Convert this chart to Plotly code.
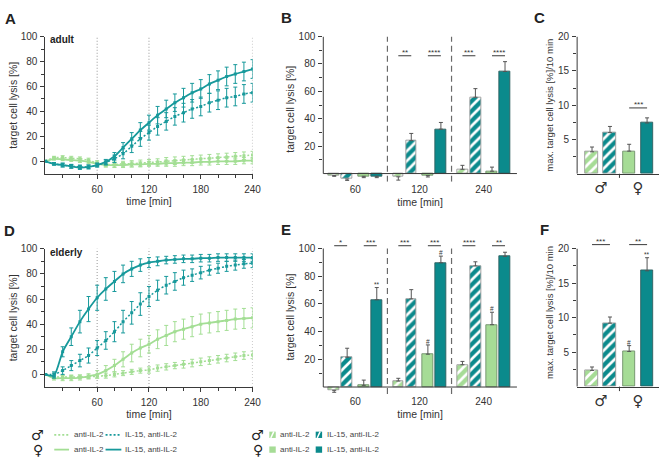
import plotly.graph_objects as go

W, H = 669, 458
FONT = "Liberation Sans, Arial, Helvetica, sans-serif"
AX = "#3a3a3a"
TXT = "#333333"
TEAL = "#17999b"
TEAL_BAR = "#0b8a8c"
GREEN = "#a3de94"
GREEN_BAR = "#a6dc96"

# ---------------- data ----------------
time_min = [0, 10, 20, 30, 40, 50, 60, 70, 80, 90, 100, 110, 120,
            130, 140, 150, 160, 170, 180, 190, 200, 210, 220, 230, 240]

# Panel A (adult) kinetics
a_anti_m = [0, 3, 3, 2.5, 2, 1, -1.5, -2.5, -2.5, -2, -2, -1.5, -1, -0.5, 0, 0.5, 1, 1.5, 2, 2.5, 3, 3.5, 4, 4.5, 5]
a_anti_m_err = [0, 1, 1.5, 1.5, 1.5, 1.5, 2, 2, 2, 2, 2.5, 2.5, 2.5, 2.5, 3, 3, 3, 3, 3, 3, 3, 3, 3, 3, 3]
a_anti_f = [0, 2, 1.5, 1, 0.5, -0.5, -2, -3, -3, -3, -2.5, -2.5, -2, -2, -1.5, -1.5, -1, -1, -0.5, -0.5, 0, 0, 0, 0.5, 0.5]
a_anti_f_err = [0, 1, 1, 1, 1.5, 1.5, 1.5, 1.5, 2, 2, 2, 2, 2, 2, 2.5, 2.5, 2.5, 2.5, 2.5, 2.5, 2.5, 2.5, 2.5, 2.5, 2.5]
a_il15_m = [0, -2, -3, -4, -4.5, -4.5, -3, -1, 2, 6, 12, 18, 23, 28, 32, 36, 39, 42, 44, 47, 49, 51, 52, 54, 55]
a_il15_m_err = [0, 1, 1.5, 1.5, 1.5, 1.5, 1.5, 2, 3, 4, 5, 6, 6, 7, 7, 7, 7.5, 7.5, 7.5, 7.5, 7.5, 7.5, 7.5, 7.5, 7.5]
a_il15_f = [0, -2, -3, -4, -5, -4.5, -3, -0.5, 4, 11, 18, 25, 31, 37, 42, 47, 51, 55, 58, 62, 65, 68, 70, 72, 74]
a_il15_f_err = [0, 1, 1.5, 1.5, 1.5, 1.5, 1.5, 2, 3, 4, 5, 6, 6, 7, 7, 7, 7.5, 7.5, 7.5, 7.5, 7.5, 7.5, 7.5, 7.5, 7.5]

# Panel D (elderly) kinetics
d_anti_m = [0, -2, -2, -2, -2, -2, -1.5, -1, 0, 1, 2, 3, 3.5, 5, 6, 7, 8, 9, 10, 11, 12, 13, 14, 15, 15.5]
d_anti_m_err = [0, 1, 1.5, 1.5, 1.5, 1.5, 1.5, 2, 2, 2, 2, 2, 2.5, 2.5, 2.5, 2.5, 3, 3, 3, 3, 3, 3, 3, 3, 3]
d_anti_f = [0, -3, -3, -3, -2.5, -1.5, 0, 3, 7, 12, 17, 21, 24, 28, 31, 34, 36, 38, 40, 41, 42, 43, 44, 44.5, 45]
d_anti_f_err = [0, 1.5, 2, 2, 2, 2, 3, 4, 5, 6, 7, 7, 7, 7.5, 8, 8, 8, 8, 8, 8, 8, 8, 8, 8, 8]
d_il15_m = [0, 0, 3, 7, 11, 15, 21, 27, 34, 42, 49, 56, 62, 67, 71, 74, 77, 79, 81, 83, 84.5, 86, 87, 88, 88.5]
d_il15_m_err = [0, 2, 3, 4, 5, 6, 6, 7, 8, 9, 9, 9, 8, 8, 7, 7, 6, 5, 5, 4, 4, 4, 4, 3.5, 3.5]
d_il15_f = [0, -1, 18, 30, 42, 52, 61, 68, 74, 80, 84, 87, 89, 90, 91, 91.5, 92, 92, 92.5, 92.5, 93, 93, 93, 93, 93]
d_il15_f_err = [0, 2, 4, 7, 9, 10, 10, 9, 8, 7, 6, 5, 4, 3.5, 3, 3, 3, 3, 3, 3, 3, 3, 3, 3, 3]

# Panels B / E: bars at 60, 120, 240 min
group_labels = ["60", "120", "240"]
b_anti_m = [-1.5, -2.4, 3.1]
b_anti_m_err = [0.5, 2.4, 2.9]
b_il15_m = [-4, 24, 55.7]
b_il15_m_err = [1, 5.3, 6.3]
b_anti_f = [-2, -1.5, 1.7]
b_anti_f_err = [1, 1, 3]
b_il15_f = [-2, 32.4, 74.5]
b_il15_f_err = [1, 4.9, 7.2]

e_anti_m = [-2.4, 4.3, 16.1]
e_anti_m_err = [1.4, 2, 2.4]
e_il15_m = [21.5, 63.6, 87.4]
e_il15_m_err = [6.5, 6.7, 3]
e_anti_f = [1.2, 23.7, 45]
e_anti_f_err = [3.8, 6.7, 9]
e_il15_f = [63, 89.7, 94.3]
e_il15_f_err = [8.8, 4.8, 3]

# Panels C / F: max. lysis rate
sex_labels = ["♂", "♀"]
c_anti = [3.2, 3.3]
c_anti_err = [0.7, 1.0]
c_il15 = [6.0, 7.4]
c_il15_err = [0.9, 0.75]
f_anti = [2.35, 5.1]
f_anti_err = [0.5, 0.85]
f_il15 = [9.2, 16.8]
f_il15_err = [0.9, 1.9]

# significance labels
b_sig = [(1, 0, "**"), (1, 1, "****"), (2, 0, "***"), (2, 1, "****")]
e_sig = [(0, 0, "*"), (0, 1, "***"), (1, 0, "***"), (1, 1, "***"), (2, 0, "****"), (2, 1, "**")]
e_marks = [(0, 3, "**"), (1, 2, "#"), (1, 3, "#"), (2, 2, "#")]
c_sig = [(1, "***")]
f_sig = [(0, "***"), (1, "**")]
f_marks = [(1, 0, "#"), (1, 1, "**")]

# ---------------- layout helpers ----------------
def fx(p):
    return p / W


def fy(p):
    return 1 - p / H


fig = go.Figure()

# bar geometry (category units)
BW4 = 0.17
OFF4 = [-0.33, -0.128, 0.131, 0.334]
BW2 = 0.345
OFF2 = [-0.239, 0.244]
DOT = "2px,2px"


def curve(xa, ya, y, err, color, dash, width):
    fig.add_trace(go.Scatter(
        x=time_min, y=y, mode="lines+markers", xaxis=xa, yaxis=ya,
        line=dict(color=color, dash=dash, width=width, shape="spline", smoothing=0.6),
        marker=dict(symbol="square", size=3, color=color),
        error_y=dict(type="data", array=err, color=color, thickness=1, width=2),
        showlegend=False, hoverinfo="skip"))


for xa, ya, sets in [
    ("x", "y", [(a_anti_m, a_anti_m_err, GREEN, DOT, 1.5), (a_anti_f, a_anti_f_err, GREEN, "solid", 1.8),
                (a_il15_m, a_il15_m_err, TEAL, DOT, 1.5), (a_il15_f, a_il15_f_err, TEAL, "solid", 1.8)]),
    ("x4", "y4", [(d_anti_m, d_anti_m_err, GREEN, DOT, 1.5), (d_anti_f, d_anti_f_err, GREEN, "solid", 1.8),
                  (d_il15_m, d_il15_m_err, TEAL, DOT, 1.5), (d_il15_f, d_il15_f_err, TEAL, "solid", 1.8)]),
]:
    for y, e, c, d, w in sets:
        curve(xa, ya, y, e, c, d, w)


def one_sided(vals, errs):
    up = [e if v >= 0 else 0 for v, e in zip(vals, errs)]
    dn = [0 if v >= 0 else e for v, e in zip(vals, errs)]
    return up, dn


def bar(xa, ya, x, vals, errs, color, hatch, offset, width, edge):
    up, dn = one_sided(vals, errs)
    pat = dict(shape=hatch, fgcolor="white", bgcolor=color, size=7, solidity=0.38, fillmode="replace")
    fig.add_trace(go.Bar(
        x=x, y=vals, xaxis=xa, yaxis=ya, offset=offset - width / 2, width=width,
        marker=dict(color=color, pattern=pat, line=dict(color=edge, width=0.9)),
        error_y=dict(type="data", symmetric=False, array=up, arrayminus=dn,
                     color="#555555", thickness=1, width=2),
        showlegend=False, hoverinfo="skip"))


for xa, ya, data in [
    ("x2", "y2", [(b_anti_m, b_anti_m_err), (b_il15_m, b_il15_m_err), (b_anti_f, b_anti_f_err), (b_il15_f, b_il15_f_err)]),
    ("x5", "y5", [(e_anti_m, e_anti_m_err), (e_il15_m, e_il15_m_err), (e_anti_f, e_anti_f_err), (e_il15_f, e_il15_f_err)]),
]:
    styles = [(GREEN_BAR, "/", "#9a9a9a"), (TEAL_BAR, "/", "#9a9a9a"), (GREEN_BAR, "", "#6f8f6a"), (TEAL_BAR, "", "#2f5f5f")]
    for i, ((v, e), (c, h, ed)) in enumerate(zip(data, styles)):
        bar(xa, ya, group_labels, v, e, c, h, OFF4[i], BW4, ed)

for xa, ya, an, ane, il, ile in [("x3", "y3", c_anti, c_anti_err, c_il15, c_il15_err),
                                 ("x6", "y6", f_anti, f_anti_err, f_il15, f_il15_err)]:
    for i, (v, e, c) in enumerate([(an, ane, GREEN_BAR), (il, ile, TEAL_BAR)]):
        up, dn = one_sided(v, e)
        fig.add_trace(go.Bar(
            x=sex_labels, y=v, xaxis=xa, yaxis=ya, offset=OFF2[i] - BW2 / 2, width=BW2,
            marker=dict(color=c, pattern=dict(shape=["/", ""], fgcolor="white", bgcolor=c, size=7,
                                              solidity=0.38, fillmode="replace"),
                        line=dict(color=["#9a9a9a", "#2f5f5f" if i else "#6f8f6a"], width=0.9)),
            error_y=dict(type="data", symmetric=False, array=up, arrayminus=dn,
                         color="#555555", thickness=1, width=2),
            showlegend=False, hoverinfo="skip"))

# ---------------- axes ----------------
tickfont = dict(family=FONT, size=10, color=TXT)
titlefont = dict(family=FONT, size=10.5, color=TXT)

common_y = dict(ticks="outside", ticklen=4, tickcolor=AX, tickwidth=1, tickfont=tickfont,
                showgrid=False, zeroline=False, linecolor=AX, linewidth=1, fixedrange=True)

xA = fx(46), fx(256)
xB = fx(327.7), fx(524)
xC = fx(585), fx(668)

layout = dict(
    width=W, height=H, margin=dict(l=0, r=0, t=0, b=0),
    paper_bgcolor="white", plot_bgcolor="white", bargap=0,
    font=dict(family=FONT, color=TXT),
)

for n, ydom in [("", (fy(170), fy(31))), ("4", (fy(386), fy(246)))]:
    layout["xaxis" + n] = dict(domain=list(xA), range=[0, 240], anchor="y" + n,
                               tickvals=[60, 120, 180, 240], ticks="outside", ticklen=4,
                               tickcolor=AX, tickfont=tickfont, showline=True, linecolor=AX,
                               showgrid=False, zeroline=False, ticklabelstandoff=2,
                               minor=dict(tickvals=[20, 40, 80, 100, 140, 160, 200, 220],
                                          ticks="outside", ticklen=3, tickcolor=AX),
                               title=dict(text="time [min]", font=titlefont, standoff=2))
    layout["yaxis" + n] = dict(common_y, domain=list(ydom), range=[-10, 100], anchor="x" + n,
                               tickvals=[0, 20, 40, 60, 80, 100], showline=True, ticklabelstandoff=1,
                               minor=dict(tickvals=[10, 30, 50, 70, 90], ticks="outside", ticklen=3, tickcolor=AX),
                               title=dict(text="target cell lysis [%]", font=titlefont, standoff=1))

for n, ydom, yr in [("2", (fy(178.1), fy(31)), [-6, 100]), ("5", (fy(393.1), fy(237.3)), [-5, 106])]:
    layout["xaxis" + n] = dict(domain=list(xB), type="category", range=[-0.5, 2.52], anchor="y" + n,
                               ticks="", tickfont=tickfont, showline=False, showgrid=False, zeroline=False,
                               title=dict(text="time [min]", font=titlefont, standoff=4))
    layout["yaxis" + n] = dict(common_y, domain=list(ydom), range=yr, anchor="x" + n,
                               tickvals=[20, 40, 60, 80, 100], showline=False, ticklabelstandoff=1,
                               minor=dict(tickvals=[10, 30, 50, 70, 90], ticks="outside", ticklen=3, tickcolor=AX),
                               title=dict(text="target cell lysis [%]", font=titlefont, standoff=1))

for n, ydom, yr in [("3", (fy(170), fy(31)), [0, 20]), ("6", (fy(385.7), fy(235.5)), [0, 21.5])]:
    layout["xaxis" + n] = dict(domain=list(xC), type="category", range=[-0.64, 1.565], anchor="y" + n,
                               ticks="", tickfont=dict(family="DejaVu Sans", size=15, color=TXT),
                               showline=True, linecolor=AX, showgrid=False, zeroline=False,
                               ticklabelstandoff=0)
    layout["yaxis" + n] = dict(common_y, domain=list(ydom), range=yr, anchor="x" + n,
                               tickvals=[5, 10, 15, 20], showline=False, ticklabelstandoff=1,
                               minor=dict(tickvals=[2.5, 7.5, 12.5, 17.5], ticks="outside", ticklen=3, tickcolor=AX),
                               title=dict(text="max. target cell lysis [%]/10 min",
                                          font=dict(family=FONT, size=9.5, color=TXT), standoff=2))

fig.update_layout(**layout)

shapes = []
annotations = []

# dotted time markers in A and D
for n in ["", "4"]:
    for t in [60, 120, 240]:
        shapes.append(dict(type="line", xref="x" + n, yref=("y" + n) + " domain", x0=t, x1=t, y0=0, y1=1,
                           line=dict(color="#a8a8a8", width=1.2, dash="1px,2px"), layer="below"))

# dashed group separators + axis lines in B and E
for n, ylo, ytop in [("2", -6, 100), ("5", -5, 100)]:
    for xs in [0.5, 1.5]:
        shapes.append(dict(type="line", xref="x" + n, yref="y" + n, x0=xs, x1=xs, y0=ylo, y1=ytop,
                           line=dict(color="#6a6a6a", width=1.2, dash="6px,4px")))
    shapes.append(dict(type="line", xref="x" + n + " domain", yref="y" + n, x0=0, x1=0, y0=0, y1=ytop,
                       line=dict(color=AX, width=1)))
    shapes.append(dict(type="line", xref="x" + n + " domain", yref="y" + n, x0=0, x1=1, y0=0, y1=0,
                       line=dict(color=AX, width=1)))

for n, ytop in [("3", 20), ("6", 20)]:
    shapes.append(dict(type="line", xref="x" + n + " domain", yref="y" + n, x0=0, x1=0, y0=0, y1=ytop,
                       line=dict(color=AX, width=1)))
    shapes.append(dict(type="line", xref="x" + n, yref="y" + n + " domain", x0=0.5, x1=0.5, y0=0, y1=-0.03,
                       line=dict(color=AX, width=1)))

star_font = dict(family=FONT, size=8, color=TXT)


def sig_line(n, x0, x1, y, text):
    shapes.append(dict(type="line", xref="x" + n, yref="y" + n, x0=x0, x1=x1, y0=y, y1=y,
                       line=dict(color=AX, width=1)))
    annotations.append(dict(xref="x" + n, yref="y" + n, x=(x0 + x1) / 2, y=y, text=text, showarrow=False,
                            yanchor="bottom", yshift=-3, font=star_font))


for g, pair, txt in b_sig:
    sig_line("2", g + OFF4[2 * pair], g + OFF4[2 * pair + 1], 86, txt)
for g, pair, txt in e_sig:
    sig_line("5", g + OFF4[2 * pair], g + OFF4[2 * pair + 1], 102, txt)
for g, txt in c_sig:
    sig_line("3", g + OFF2[0], g + OFF2[1], 9.6, txt)
for g, txt in f_sig:
    sig_line("6", g + OFF2[0], g + OFF2[1], 20.6, txt)

e_all = [(e_anti_m, e_anti_m_err), (e_il15_m, e_il15_m_err), (e_anti_f, e_anti_f_err), (e_il15_f, e_il15_f_err)]
for g, b, txt in e_marks:
    v, e = e_all[b][0][g], e_all[b][1][g]
    annotations.append(dict(xref="x5", yref="y5", x=g + OFF4[b], y=v + e, text=txt, showarrow=False,
                            yanchor="bottom", yshift=-2, font=dict(family=FONT, size=6.5, color=TXT)))
f_all = [(f_anti, f_anti_err), (f_il15, f_il15_err)]
for g, b, txt in f_marks:
    v, e = f_all[b][0][g], f_all[b][1][g]
    annotations.append(dict(xref="x6", yref="y6", x=g + OFF2[b], y=v + e, text=txt, showarrow=False,
                            yanchor="bottom", yshift=-2, font=dict(family=FONT, size=6.5, color=TXT)))

# panel letters and group labels
for letter, px, py in [("A", 3, 13), ("B", 282.5, 12), ("C", 539, 12), ("D", 2.5, 227), ("E", 283, 226.5), ("F", 545, 226.5)]:
    annotations.append(dict(xref="paper", yref="paper", x=fx(px), y=fy(py), text="<b>%s</b>" % letter,
                            showarrow=False, xanchor="left", yanchor="middle",
                            font=dict(family=FONT, size=15, color="#222222")))
for txt, py in [("adult", 34), ("elderly", 250)]:
    annotations.append(dict(xref="paper", yref="paper", x=fx(49), y=fy(py), text="<b>%s</b>" % txt,
                            showarrow=False, xanchor="left", yanchor="middle",
                            font=dict(family=FONT, size=10, color="#222222")))

# ---------------- legend (bottom) ----------------
leg_font = dict(family=FONT, size=8, color="#444444")
sym_font = dict(family="DejaVu Sans", size=14, color="#222222")
rows = [(434.5, "♂", DOT), (449.5, "♀", "solid")]
for py, sym, dash in rows:
    annotations.append(dict(xref="paper", yref="paper", x=fx(38.5), y=fy(py), text=sym, showarrow=False,
                            xanchor="center", yanchor="middle", font=sym_font))
    annotations.append(dict(xref="paper", yref="paper", x=fx(261.5), y=fy(py), text=sym, showarrow=False,
                            xanchor="center", yanchor="middle", font=sym_font))
    for x0, x1, col, tx, label in [(55, 70, GREEN, 73, "anti-IL-2"), (107, 123, TEAL, 125, "IL-15, anti-IL-2")]:
        shapes.append(dict(type="line", xref="paper", yref="paper", x0=fx(x0), x1=fx(x1), y0=fy(py), y1=fy(py),
                           line=dict(color=col, width=1.8, dash=dash)))
        annotations.append(dict(xref="paper", yref="paper", x=fx(tx), y=fy(py), text=label, showarrow=False,
                                xanchor="left", yanchor="middle", font=leg_font))
    for x0, col, tx, label in [(273, GREEN_BAR, 282, "anti-IL-2"), (320, TEAL_BAR, 329, "IL-15, anti-IL-2")]:
        shapes.append(dict(type="rect", xref="paper", yref="paper", x0=fx(x0), x1=fx(x0 + 6.5),
                           y0=fy(py + 3.2), y1=fy(py - 3.2), fillcolor=col, line=dict(width=0)))
        if dash == DOT:
            shapes.append(dict(type="line", xref="paper", yref="paper", x0=fx(x0 + 1.5), x1=fx(x0 + 4.5),
                               y0=fy(py + 3.2), y1=fy(py - 3.2), line=dict(color="white", width=1.5)))
        annotations.append(dict(xref="paper", yref="paper", x=fx(tx), y=fy(py), text=label, showarrow=False,
                                xanchor="left", yanchor="middle", font=leg_font))

fig.update_layout(shapes=shapes, annotations=annotations)
fig.write_html("out.html")
